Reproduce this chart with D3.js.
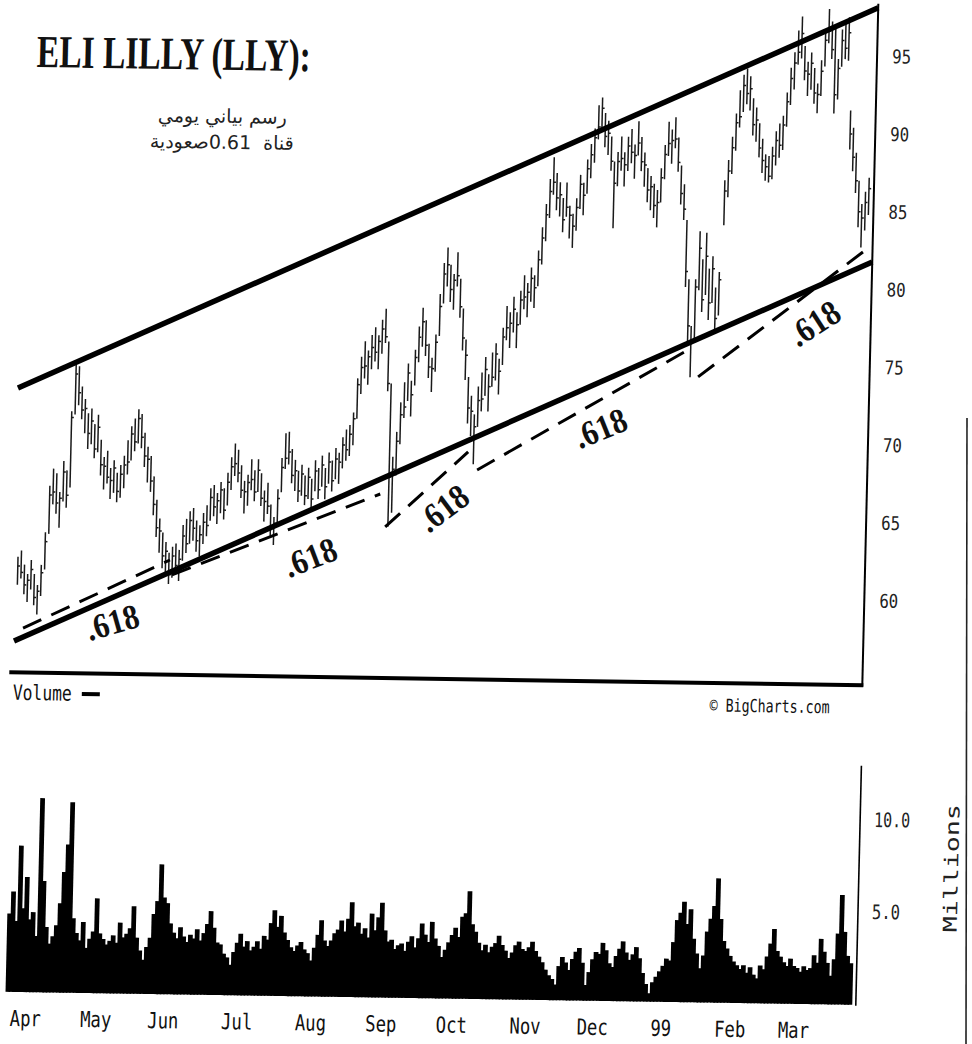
<!DOCTYPE html>
<html><head><meta charset="utf-8">
<script src="https://cdn.jsdelivr.net/npm/d3@7"></script>
<style>body{margin:0;background:#fff}svg{display:block}</style>
</head><body>
<script>
// ---- data ----
const monthLabels = ["Apr","May","Jun","Jul","Aug","Sep","Oct","Nov","Dec","99","Feb","Mar"];
const monthStarts = [0,21,41,63,85,106,127,149,169,191,210,229];
const priceTicks = [60,65,70,75,80,85,90,95];
const volumeTicks = [5,10];
const highs = [
62.0,62.4,61.5,60.9,61.8,60.9,60.2,61.5,63.6,66.6,
67.7,67.4,66.2,68.2,67.6,71.4,74.6,74.3,73.0,72.2,
71.3,71.6,70.6,71.2,69.6,68.5,68.9,67.8,68.3,67.5,
68.0,68.6,69.6,70.5,71.0,71.6,71.3,70.1,69.2,68.6,
67.3,65.8,64.6,63.7,63.1,62.4,62.8,63.0,62.6,64.2,
64.6,65.1,65.3,64.5,64.2,65.0,65.5,66.6,66.8,66.3,
67.0,66.6,67.6,68.6,69.5,69.1,68.1,67.1,67.5,68.5,
67.8,68.5,67.6,66.5,67.0,65.6,64.8,66.6,68.6,70.2,
70.3,69.2,68.5,67.8,68.2,67.5,68.0,67.3,68.5,68.0,
68.8,68.0,69.0,68.5,69.3,69.0,70.0,70.5,70.8,71.6,
73.8,75.2,76.2,75.6,76.6,77.1,76.6,77.6,78.3,76.2,
73.5,68.8,70.4,72.3,73.6,74.8,73.7,75.7,77.2,78.4,
77.6,76.1,75.2,76.7,79.3,81.3,82.3,81.2,80.6,82.0,
80.3,78.4,76.4,74.0,72.8,71.6,73.4,74.3,75.3,74.2,
75.6,76.2,75.2,77.2,78.6,78.2,79.2,78.2,79.6,80.6,
80.1,81.1,80.6,82.2,83.7,85.2,86.8,88.2,87.2,86.6,
85.6,86.6,85.1,84.6,85.6,87.1,86.6,88.1,89.1,90.1,
91.6,92.1,91.1,90.6,89.6,88.0,88.6,89.6,88.6,89.6,
90.1,89.1,90.6,89.6,88.6,87.6,87.1,86.6,86.2,87.6,
89.1,90.6,90.1,90.9,89.6,87.8,86.6,84.3,80.5,77.5,
80.5,83.6,81.8,83.5,81.2,82.0,80.0,81.0,86.9,88.2,
89.7,91.2,92.7,93.7,94.1,93.6,92.2,91.6,90.6,89.6,
88.6,88.5,89.1,90.1,90.6,91.1,92.6,94.2,95.2,96.6,
97.5,95.6,94.6,95.2,94.2,93.2,94.7,96.7,98.0,97.2,
96.8,94.8,96.7,97.2,97.5,91.5,90.4,88.8,87.0,85.5,
86.3,87.2];
const lows = [
60.2,60.6,59.6,59.1,59.9,58.9,58.3,59.5,61.2,63.5,
65.4,64.8,63.9,65.6,65.2,66.5,71.2,71.8,70.9,70.0,
69.0,69.3,68.4,68.8,67.3,66.4,66.8,65.8,66.2,65.6,
65.9,66.5,67.4,68.3,68.9,69.4,69.1,67.9,66.9,66.3,
64.8,63.4,62.4,61.4,61.0,60.4,60.8,61.0,60.6,61.9,
62.4,63.0,63.2,62.5,62.2,63.0,63.5,64.5,64.8,64.3,
65.0,64.6,65.5,66.5,67.4,67.0,66.0,65.0,65.5,66.5,
65.8,66.4,65.5,64.5,65.0,63.6,63.0,64.4,66.4,67.9,
68.2,67.0,66.5,65.8,66.2,65.6,66.0,65.4,66.5,66.0,
66.8,66.0,67.0,66.5,67.3,67.0,68.0,68.5,68.8,69.5,
71.2,72.8,73.8,73.4,74.4,74.9,74.4,75.4,76.1,73.0,
64.3,65.2,67.6,69.6,71.3,72.4,71.4,73.4,74.9,75.9,
75.3,73.9,73.0,74.3,76.6,78.7,79.8,78.8,78.3,79.8,
77.8,75.7,73.8,71.0,70.2,68.4,70.8,71.8,72.8,71.8,
73.4,73.8,72.9,74.8,76.4,75.9,76.9,75.9,77.4,78.4,
77.9,78.9,78.5,79.9,81.3,82.8,84.3,85.8,84.8,84.4,
83.4,84.4,83.0,82.4,83.5,84.9,84.5,85.9,86.9,87.9,
89.4,89.9,88.9,88.4,87.4,83.7,86.4,87.4,86.4,87.4,
87.9,86.9,88.4,87.4,86.4,85.4,84.9,84.4,83.8,85.4,
86.9,88.4,87.9,88.9,87.4,85.3,84.3,80.0,76.5,74.2,
76.7,79.8,78.4,79.5,77.9,79.0,77.3,78.2,84.0,85.8,
87.3,88.8,90.3,91.3,91.8,91.4,89.8,89.4,88.4,87.4,
86.9,86.8,87.0,87.9,88.4,88.9,90.4,91.8,92.8,94.4,
94.8,93.4,92.4,92.8,91.9,91.3,92.4,94.3,95.8,94.8,
91.3,92.2,94.3,94.8,94.7,89.0,87.6,86.2,84.0,82.7,
83.8,84.8];
const closes = [
61.4,61.0,60.2,60.5,61.2,59.4,59.8,61.0,63.0,66.0,
66.2,65.5,65.8,67.5,66.0,71.0,73.8,72.6,71.5,71.6,
70.0,70.8,69.0,70.4,68.0,67.9,67.2,67.0,67.8,66.3,
67.4,68.0,68.2,70.0,69.5,71.0,69.8,68.6,68.4,67.0,
65.5,64.0,63.8,62.2,62.5,61.0,62.2,61.6,62.0,63.5,
63.0,64.5,64.0,63.2,63.6,64.4,64.2,66.0,65.4,65.8,
66.5,65.2,67.0,68.0,68.2,67.6,66.5,66.4,67.0,67.2,
66.4,67.8,66.0,65.8,65.5,64.2,64.4,66.0,68.0,68.6,
69.0,67.5,67.8,66.5,67.6,66.2,67.4,66.0,67.8,66.6,
68.2,66.8,68.4,67.2,68.6,68.4,69.5,69.2,70.2,71.2,
73.4,74.5,74.6,75.2,75.8,75.5,76.2,77.0,76.5,73.5,
67.5,68.0,69.8,71.5,72.0,74.2,72.8,75.2,76.5,77.5,
76.0,74.6,74.5,76.2,78.5,80.6,81.2,79.6,80.2,80.5,
78.5,76.5,75.4,72.0,71.8,70.8,72.5,72.6,74.5,73.4,
74.0,75.5,74.4,76.6,77.2,77.5,78.4,77.4,79.0,79.2,
79.5,80.4,79.8,81.6,83.0,84.5,86.0,86.6,85.6,85.8,
84.2,85.0,84.5,83.8,85.0,86.5,85.8,87.5,88.4,89.5,
90.2,91.4,89.6,89.8,88.0,86.6,88.0,88.2,87.8,89.0,
88.6,88.4,89.2,88.0,87.8,86.2,86.4,85.2,85.4,87.0,
88.5,89.2,89.4,89.5,88.0,86.0,85.0,81.0,77.5,76.5,
80.0,82.5,79.2,82.0,79.0,81.2,78.0,80.5,86.2,87.5,
89.0,90.6,91.0,93.0,92.5,92.8,90.5,90.8,89.0,88.2,
87.8,87.2,88.5,89.5,89.2,90.5,92.0,93.5,94.5,95.2,
96.4,94.0,93.8,94.5,92.6,92.5,94.0,96.0,96.6,95.4,
92.5,94.2,96.0,95.5,96.5,90.0,88.5,87.0,85.0,84.6,
85.6,86.5];
const volumes = [
4.2,5.4,3.8,7.9,4.5,6.2,3.9,4.3,3.0,10.5,
6.0,3.5,2.6,3.0,3.6,4.8,6.5,8.0,10.3,4.0,
3.2,2.8,3.8,2.4,2.9,3.3,5.1,3.2,2.9,2.6,
2.8,3.1,2.7,3.8,3.0,3.2,3.5,4.7,3.0,2.3,
1.8,2.5,3.0,4.3,5.0,7.0,5.2,4.9,3.8,3.3,
3.0,3.6,3.1,2.8,3.2,3.0,3.5,2.9,3.3,3.8,
4.5,3.6,2.8,2.7,2.2,2.0,1.6,2.3,2.8,3.3,
2.6,2.9,2.4,2.6,2.9,2.5,3.2,3.0,3.9,4.6,
3.7,4.3,3.4,3.0,2.6,2.4,2.7,2.9,2.5,2.3,
1.9,2.6,3.3,4.1,3.0,2.7,3.0,3.4,3.6,4.1,
3.5,4.2,5.1,3.8,4.0,3.4,3.7,3.2,4.5,3.6,
4.3,5.1,3.6,3.0,3.1,2.6,2.8,2.9,2.5,3.0,
3.3,2.7,3.2,4.0,3.4,3.0,4.1,3.2,2.8,2.2,
2.6,3.0,3.4,3.8,3.3,4.4,4.6,5.8,4.0,3.6,
3.0,2.6,2.9,2.5,2.8,3.0,3.4,2.9,2.6,2.2,
2.5,2.9,3.1,2.7,2.6,2.8,3.1,2.6,2.3,2.0,
1.6,1.3,1.1,0.8,1.8,2.3,2.0,1.6,2.2,2.6,
2.8,2.0,0.8,1.5,2.2,2.6,2.5,3.1,2.7,2.0,
1.8,2.4,2.8,3.2,2.6,2.2,2.5,2.9,2.3,1.5,
0.9,0.4,1.0,1.3,1.6,1.9,2.3,2.2,3.2,4.4,
4.8,5.4,4.2,5.0,3.4,2.6,1.8,2.5,3.8,4.5,
5.2,6.7,4.5,3.3,2.9,2.5,2.2,2.0,1.8,2.0,
1.6,1.9,1.5,1.3,2.0,1.8,2.5,3.2,4.0,2.8,
2.5,2.2,2.0,2.4,2.0,1.9,1.7,2.0,1.8,1.9,
2.6,2.2,3.5,2.8,2.2,1.5,2.4,3.8,5.9,3.9,
2.6,2.2];
// channel lines: [trading-day index, price]
const channelUpper = [[-1.2,72.85],[252.5,98.13]];
const channelLower = [[-0.6,56.58],[252.5,81.79]];
const fibLines = [
  [[2.0,57.42],[45.3,61.94]],
  [[46.0,60.98],[107.5,66.39]],
  [[109.2,64.28],[133.4,69.18]],
  [[136.2,68.03],[198.2,75.95]],
  [[201.4,74.23],[249.7,82.43]]];
const fibLabelText = ".618";
const fibLabelAt = [[28.5,57.9],[87.0,62.27],[126.3,65.56],[172.6,70.86],[235.6,77.81]];

// ---- drawing ----
const W=972,H=1044;
const mono="'DejaVu Sans Mono', monospace";
const svg=d3.select("body").append("svg").attr("width",W).attr("height",H);
svg.append("rect").attr("width",W).attr("height",H).attr("fill","#fff");
const g=svg.append("g").attr("transform","matrix(1,0.0153,-0.0235,1,12.27,-7.44)");

const x=d3.scaleLinear().domain([0,251]).range([19,861]);
const y=d3.scaleLinear().domain([60,95]).range([595,50.7]);
const yv=d3.scaleLinear().domain([0,10]).range([998,814]);
const step=x(1)-x(0);
const idx=d3.range(highs.length);

// title
g.append("text").attr("x",26).attr("y",74)
 .attr("font-family","'Liberation Serif', serif").attr("font-weight","bold")
 .attr("font-size",46).attr("textLength",274).attr("lengthAdjust","spacingAndGlyphs")
 .attr("fill","#111").text("ELI LILLY (LLY):");
g.append("text").attr("x",213).attr("y",127).attr("text-anchor","middle")
 .attr("font-family","'DejaVu Sans', sans-serif").attr("font-size",19).attr("fill","#222")
 .text("رسم بياني يومي");
g.append("text").attr("x",213).attr("y",153).attr("text-anchor","middle")
 .attr("font-family","'DejaVu Sans', sans-serif").attr("font-size",19).attr("fill","#222")
 .style("white-space","pre").text("قناة  0.61صعودية");

// price bars
const bars=g.append("g").attr("stroke","#1a1a1a").attr("stroke-width",1.5);
bars.selectAll("line.hl").data(idx).join("line").attr("class","hl")
 .attr("x1",i=>x(i)).attr("x2",i=>x(i)).attr("y1",i=>y(highs[i])).attr("y2",i=>y(lows[i]));
bars.selectAll("line.cl").data(idx).join("line").attr("class","cl")
 .attr("x1",i=>x(i)).attr("x2",i=>x(i)+2.2).attr("y1",i=>y(closes[i])).attr("y2",i=>y(closes[i]));

// channel
const ln=d3.line().x(d=>x(d[0])).y(d=>y(d[1]));
g.append("path").attr("d",ln(channelUpper)).attr("stroke","#000").attr("stroke-width",5.5).attr("fill","none");
g.append("path").attr("d",ln(channelLower)).attr("stroke","#000").attr("stroke-width",5.5).attr("fill","none");
g.selectAll("path.fib").data(fibLines).join("path").attr("class","fib")
 .attr("d",d=>ln(d)).attr("stroke","#000").attr("stroke-width",3).attr("fill","none")
 .attr("stroke-dasharray","20,11");
const fibAngles=[-17,-22,-38,-23,-34];
g.selectAll("text.fibl").data(fibLabelAt).join("text").attr("class","fibl")
 .attr("transform",(d,i)=>`translate(${x(d[0])},${y(d[1])}) rotate(${fibAngles[i]})`)
 .attr("text-anchor","middle").attr("dy","0.35em")
 .attr("font-family","'Liberation Serif', serif").attr("font-weight","bold")
 .attr("font-size",35).attr("textLength",54).attr("lengthAdjust","spacingAndGlyphs")
 .attr("fill","#111").text(fibLabelText);

// price frame
g.append("line").attr("x1",866).attr("x2",866).attr("y1",-2).attr("y2",681).attr("stroke","#000").attr("stroke-width",2);
g.append("line").attr("x1",13).attr("x2",867).attr("y1",679.5).attr("y2",679.5).attr("stroke","#000").attr("stroke-width",4);

// price axis
const pa=g.append("g").attr("transform","translate(866,0)")
 .call(d3.axisRight(y).tickValues(priceTicks).tickSize(0).tickPadding(15));
pa.select(".domain").remove();
pa.selectAll("text").attr("font-family",mono).attr("font-size",19).attr("fill","#222")
 .attr("textLength",19).attr("lengthAdjust","spacingAndGlyphs");

// volume
g.append("text").attr("x",17).attr("y",707).attr("font-family",mono).attr("font-size",21)
 .attr("textLength",59).attr("lengthAdjust","spacingAndGlyphs").attr("fill","#111").text("Volume");
g.append("rect").attr("x",86).attr("y",698).attr("width",18).attr("height",4).attr("fill","#000");
g.append("text").attr("x",714).attr("y",708).attr("font-family",mono).attr("font-size",18)
 .attr("textLength",120).attr("lengthAdjust","spacingAndGlyphs").attr("fill","#111").text("© BigCharts.com");

g.selectAll("rect.vol").data(idx).join("rect").attr("class","vol")
 .attr("x",i=>x(i)-step/2-0.6).attr("width",step+1.4)
 .attr("y",i=>yv(volumes[i])).attr("height",i=>yv(0)-yv(volumes[i])+1).attr("fill","#000");
g.append("line").attr("x1",867).attr("x2",867).attr("y1",760).attr("y2",1000).attr("stroke","#000").attr("stroke-width",1.6);

const va=g.append("g").attr("transform","translate(867,0)")
 .call(d3.axisRight(yv).tickValues(volumeTicks).tickSize(0).tickPadding(14).tickFormat(d3.format(".1f")));
va.select(".domain").remove();
va.selectAll("text").attr("font-family",mono).attr("font-size",20).attr("fill","#222")
 .attr("textLength",d=>d>=10?36:28).attr("lengthAdjust","spacingAndGlyphs");
g.append("text").attr("transform","translate(966,861) rotate(-90)").attr("text-anchor","middle")
 .attr("font-family",mono).attr("font-size",19).attr("textLength",128).attr("lengthAdjust","spacingAndGlyphs")
 .attr("fill","#222").text("Millions");

// month axis
const ma=g.append("g").attr("transform","translate(0,1000)")
 .call(d3.axisBottom(x).tickValues(monthStarts).tickSize(0).tickPadding(0)
   .tickFormat((d,i)=>monthLabels[i]));
ma.select(".domain").remove();
ma.selectAll("text").attr("text-anchor","start").attr("dx",2).attr("y",33).attr("dy",0)
 .attr("font-family",mono).attr("font-size",22).attr("fill","#111")
 .attr("textLength",(d,i)=>monthLabels[i].length*10.4).attr("lengthAdjust","spacingAndGlyphs");

// page border line at right
svg.append("line").attr("x1",967).attr("x2",966).attr("y1",418).attr("y2",1044).attr("stroke","#222").attr("stroke-width",1.6);
</script>
</body></html>
